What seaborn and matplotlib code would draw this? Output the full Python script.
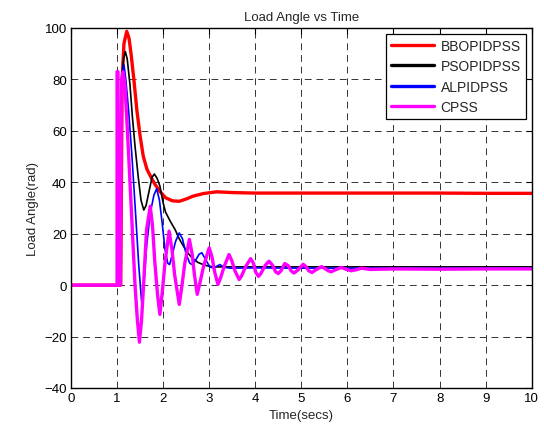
import numpy as np
import pandas as pd
import matplotlib
matplotlib.use("Agg")
import matplotlib.pyplot as plt
import seaborn as sns

# ---------------- data ----------------
bbo_t = [0, 1.0, 1.08, 1.11, 1.15, 1.21, 1.26, 1.31, 1.37, 1.43, 1.50, 1.57, 1.65, 1.75,
         1.83, 1.93, 2.05, 2.20, 2.35, 2.50, 2.65, 2.87, 3.16, 3.50, 4.0, 5.0, 6.0, 7.0,
         8.0, 9.0, 10.0]
bbo_y = [0, 0, 0, 80, 94, 98.7, 96, 89, 79, 68, 58, 50, 45, 41.5,
         39, 36.5, 34, 32.8, 32.6, 33.5, 34.6, 35.6, 36.3, 36.0, 35.8, 35.8, 35.8, 35.8,
         35.8, 35.7, 35.7]

pso_t = [0, 1.0, 1.06, 1.10, 1.14, 1.18, 1.22, 1.28, 1.33, 1.39, 1.46, 1.52, 1.58, 1.63,
         1.70, 1.76, 1.81, 1.87, 1.93, 2.00, 2.05, 2.15, 2.26, 2.35, 2.44, 2.55, 2.65,
         2.76, 2.87, 3.00, 3.10, 4.0, 5.0, 6.0, 7.0, 8.0, 9.0, 10.0]
pso_y = [0, 0, 0, 80, 88, 90.8, 88, 78, 66, 54, 42, 33, 29.2, 31,
         37, 42, 43.2, 41.5, 38.5, 32, 28.5, 25, 21.6, 18, 15.2, 12.2, 10.2,
         8.8, 8.0, 7.3, 7.1, 7.1, 7.1, 7.1, 7.1, 7.1, 7.1, 7.1]

al_t = [0, 1.0, 1.06, 1.09, 1.12, 1.15, 1.19, 1.25, 1.32, 1.41, 1.47, 1.535, 1.58, 1.64,
        1.72, 1.80, 1.86, 1.92, 1.98, 2.04, 2.10, 2.14, 2.20, 2.27, 2.35, 2.42, 2.50,
        2.58, 2.63, 2.70, 2.78, 2.84, 2.92, 3.00, 3.05, 3.15, 3.23, 3.32, 3.45, 4.0,
        5.0, 6.0, 7.0, 8.0, 9.0, 10.0]
al_y = [0, 0, 0, 75, 83, 85.7, 80, 68, 51, 25.5, 8, -7, 0, 15,
        28, 35, 37.5, 33, 24, 14, 8.5, 8, 12, 17, 20.3, 18, 12,
        8.5, 8, 9.5, 12, 12.6, 10, 7.5, 6.8, 7.2, 8, 7, 6.6, 6.7,
        6.6, 6.6, 6.6, 6.6, 6.6, 6.6]

cpss_t = [0, 1.0, 1.0, 1.02, 1.025, 1.07, 1.10, 1.13, 1.17, 1.21, 1.25, 1.32, 1.39, 1.44,
          1.485, 1.53, 1.57, 1.64, 1.72, 1.77, 1.82, 1.88, 1.93, 1.98, 2.04, 2.13, 2.19,
          2.25, 2.35, 2.41, 2.47, 2.57, 2.63, 2.68, 2.74, 2.80, 2.88, 3.00, 3.06, 3.12,
          3.19, 3.25, 3.33, 3.43, 3.49, 3.56, 3.65, 3.70, 3.80, 3.90, 3.96, 4.01, 4.07,
          4.12, 4.22, 4.30, 4.38, 4.44, 4.50, 4.56, 4.64, 4.72, 4.78, 4.84, 4.92, 5.04,
          5.10, 5.16, 5.23, 5.30, 5.44, 5.50, 5.58, 5.65, 5.72, 5.87, 5.95, 6.08, 6.20,
          6.30, 6.50, 7.0, 8.0, 9.0, 10.0]
cpss_y = [0, 0, 83, 83, 0, 0, 80, 83, 78, 65, 51, 25.5, 0, -13.3,
          -22.2, -14, -1.7, 21.6, 30.7, 23, 8.8, -4, -11.4, -3, 8.7, 21, 14,
          4, -7.5, 0, 8.5, 17.8, 12, 4, -3.6, 1, 7.5, 14.5, 11, 5,
          0.3, 3, 7.5, 11.9, 9.5, 5.5, 2.2, 3.5, 7.5, 10.3, 8.5, 5, 3.4,
          4.5, 7.8, 9.3, 7.6, 5.2, 4.5, 5.6, 8.4, 7.5, 5.5, 4.7, 5.8, 8.1,
          7.2, 5.6, 4.9, 5.8, 7.2, 6.6, 5.6, 5.2, 5.8, 6.9, 6.3, 5.6, 6.0,
          6.6, 6.1, 6.3, 6.2, 6.3, 6.3]

x_ticks = list(range(0, 11))
y_ticks = list(range(-40, 101, 20))

# ---------------- style ----------------
sns.set_style("white")
plt.rcParams["font.family"] = ["Liberation Sans", "DejaVu Sans"]

fig = plt.figure(figsize=(5.44, 4.27), dpi=100)
ax = fig.add_axes([0.1305, 0.0890, 0.8469, 0.8431])

series = [
    ("BBOPIDPSS", bbo_t, bbo_y, "#ff0000", 2.4),
    ("PSOPIDPSS", pso_t, pso_y, "#000000", 1.2),
    ("ALPIDPSS", al_t, al_y, "#0000ff", 1.2),
    ("CPSS", cpss_t, cpss_y, "#ff00ff", 2.4),
]
for name, t, y, c, lw in series:
    df = pd.DataFrame({"t": t, "y": y})
    sns.lineplot(data=df, x="t", y="y", ax=ax, color=c, linewidth=lw,
                 label=name, sort=False, estimator=None)

ax.set_xlim(0, 10)
ax.set_ylim(-40, 100)
ax.set_xticks(x_ticks)
ax.set_yticks(y_ticks)
ax.grid(True, color="#333333", linestyle=(0, (7, 5)), linewidth=0.7)
ax.tick_params(direction="in", length=4, width=0.8, labelsize=9.5, pad=3,
               top=True, right=True, colors="black")
for s in ax.spines.values():
    s.set_visible(True)
    s.set_color("black")
    s.set_linewidth(1.0)

ax.set_title("Load Angle vs Time", fontsize=9.5, pad=6)
ax.set_xlabel("Time(secs)", fontsize=9.5, labelpad=3.5)
ax.set_ylabel("Load Angle(rad)", fontsize=9.5, labelpad=4)

leg = ax.legend(loc="upper right", fontsize=10, fancybox=False, framealpha=1,
                edgecolor="black", handlelength=3.1, handletextpad=0.45,
                labelspacing=0.45, borderaxespad=0.4, borderpad=0.4)
leg.get_frame().set_linewidth(0.9)
for line in leg.get_lines():
    line.set_linewidth(2.4)

fig.savefig("out.png", dpi=100)
